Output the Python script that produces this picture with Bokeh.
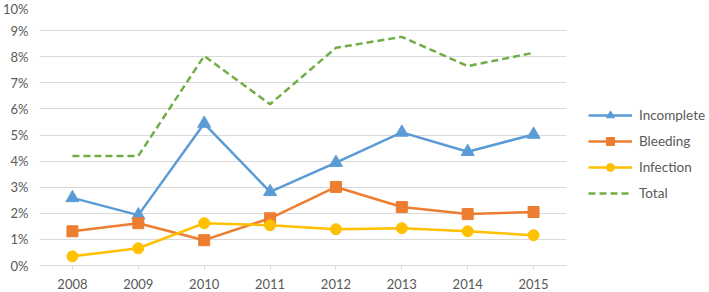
from bokeh.plotting import figure
from bokeh.models import Range1d, FactorRange, FixedTicker, NumeralTickFormatter, Legend, LegendItem
from bokeh.embed import file_html
from bokeh.resources import INLINE

years = ["2008", "2009", "2010", "2011", "2012", "2013", "2014", "2015"]
incomplete = [0.0259, 0.0193, 0.0544, 0.0282, 0.0394, 0.0510, 0.0436, 0.0502]
bleeding = [0.0131, 0.0162, 0.0097, 0.0181, 0.0301, 0.0224, 0.0197, 0.0205]
infection = [0.0035, 0.0066, 0.0162, 0.0154, 0.0139, 0.0143, 0.0131, 0.0116]
total = [0.0420, 0.0420, 0.0803, 0.0618, 0.0834, 0.0876, 0.0764, 0.0815]
y_ticks = [0.0, 0.01, 0.02, 0.03, 0.04, 0.05, 0.06, 0.07, 0.08, 0.09, 0.10]

FONT = "Lato"
TXT = "#595959"
GRID = "#D9D9D9"

p = figure(width=693, height=276, frame_width=527, frame_height=261,
           output_backend="svg", toolbar_location=None,
           x_range=FactorRange(*years), y_range=Range1d(0, 0.10),
           min_border_left=37, min_border_right=0, min_border_top=4, min_border_bottom=0)
p.outline_line_color = None
p.xgrid.grid_line_color = None
p.ygrid.grid_line_color = GRID
p.ygrid.grid_line_width = 1

p.yaxis.ticker = FixedTicker(ticks=y_ticks)
p.yaxis.formatter = NumeralTickFormatter(format="0%")
p.yaxis.axis_line_color = None
p.yaxis.major_tick_line_color = None
p.yaxis.minor_tick_line_color = None
p.yaxis.major_label_text_font = FONT
p.yaxis.major_label_text_font_size = "13px"
p.yaxis.major_label_text_color = TXT
p.yaxis.major_label_standoff = 5

p.xaxis.axis_line_color = GRID
p.xaxis.major_tick_line_color = GRID
p.xaxis.major_tick_in = 0
p.xaxis.major_tick_out = 4
p.xaxis.major_label_text_font = FONT
p.xaxis.major_label_text_font_size = "13px"
p.xaxis.major_label_text_color = TXT
p.xaxis.major_label_standoff = 9

BLUE = "#5B9BD5"
ORANGE = "#ED7D31"
YELLOW = "#FFC000"
GREEN = "#70AD47"

l1 = p.line(years, incomplete, line_color=BLUE, line_width=2.5)
m1 = p.scatter(years, incomplete, marker="triangle", size=13, fill_color=BLUE, line_color=BLUE)
l2 = p.line(years, bleeding, line_color=ORANGE, line_width=2.5)
m2 = p.scatter(years, bleeding, marker="square", size=11, fill_color=ORANGE, line_color=ORANGE)
l3 = p.line(years, infection, line_color=YELLOW, line_width=2.5)
m3 = p.scatter(years, infection, marker="circle", size=11, fill_color=YELLOW, line_color=YELLOW)
l4 = p.line(years, total, line_color=GREEN, line_width=2.5, line_dash="7 4")

legend = Legend(items=[
    LegendItem(label="Incomplete", renderers=[l1, m1]),
    LegendItem(label="Bleeding", renderers=[l2, m2]),
    LegendItem(label="Infection", renderers=[l3, m3]),
    LegendItem(label="Total", renderers=[l4]),
], location=(22, 62))
legend.background_fill_alpha = 0
legend.border_line_color = None
legend.padding = 0
legend.margin = 0
legend.spacing = 6
legend.glyph_width = 44
legend.glyph_height = 20
legend.label_standoff = 7
legend.label_text_font = FONT
legend.label_text_font_size = "13.5px"
legend.label_text_color = TXT
p.add_layout(legend, "right")

open("out.html", "w").write(file_html(p, INLINE))
